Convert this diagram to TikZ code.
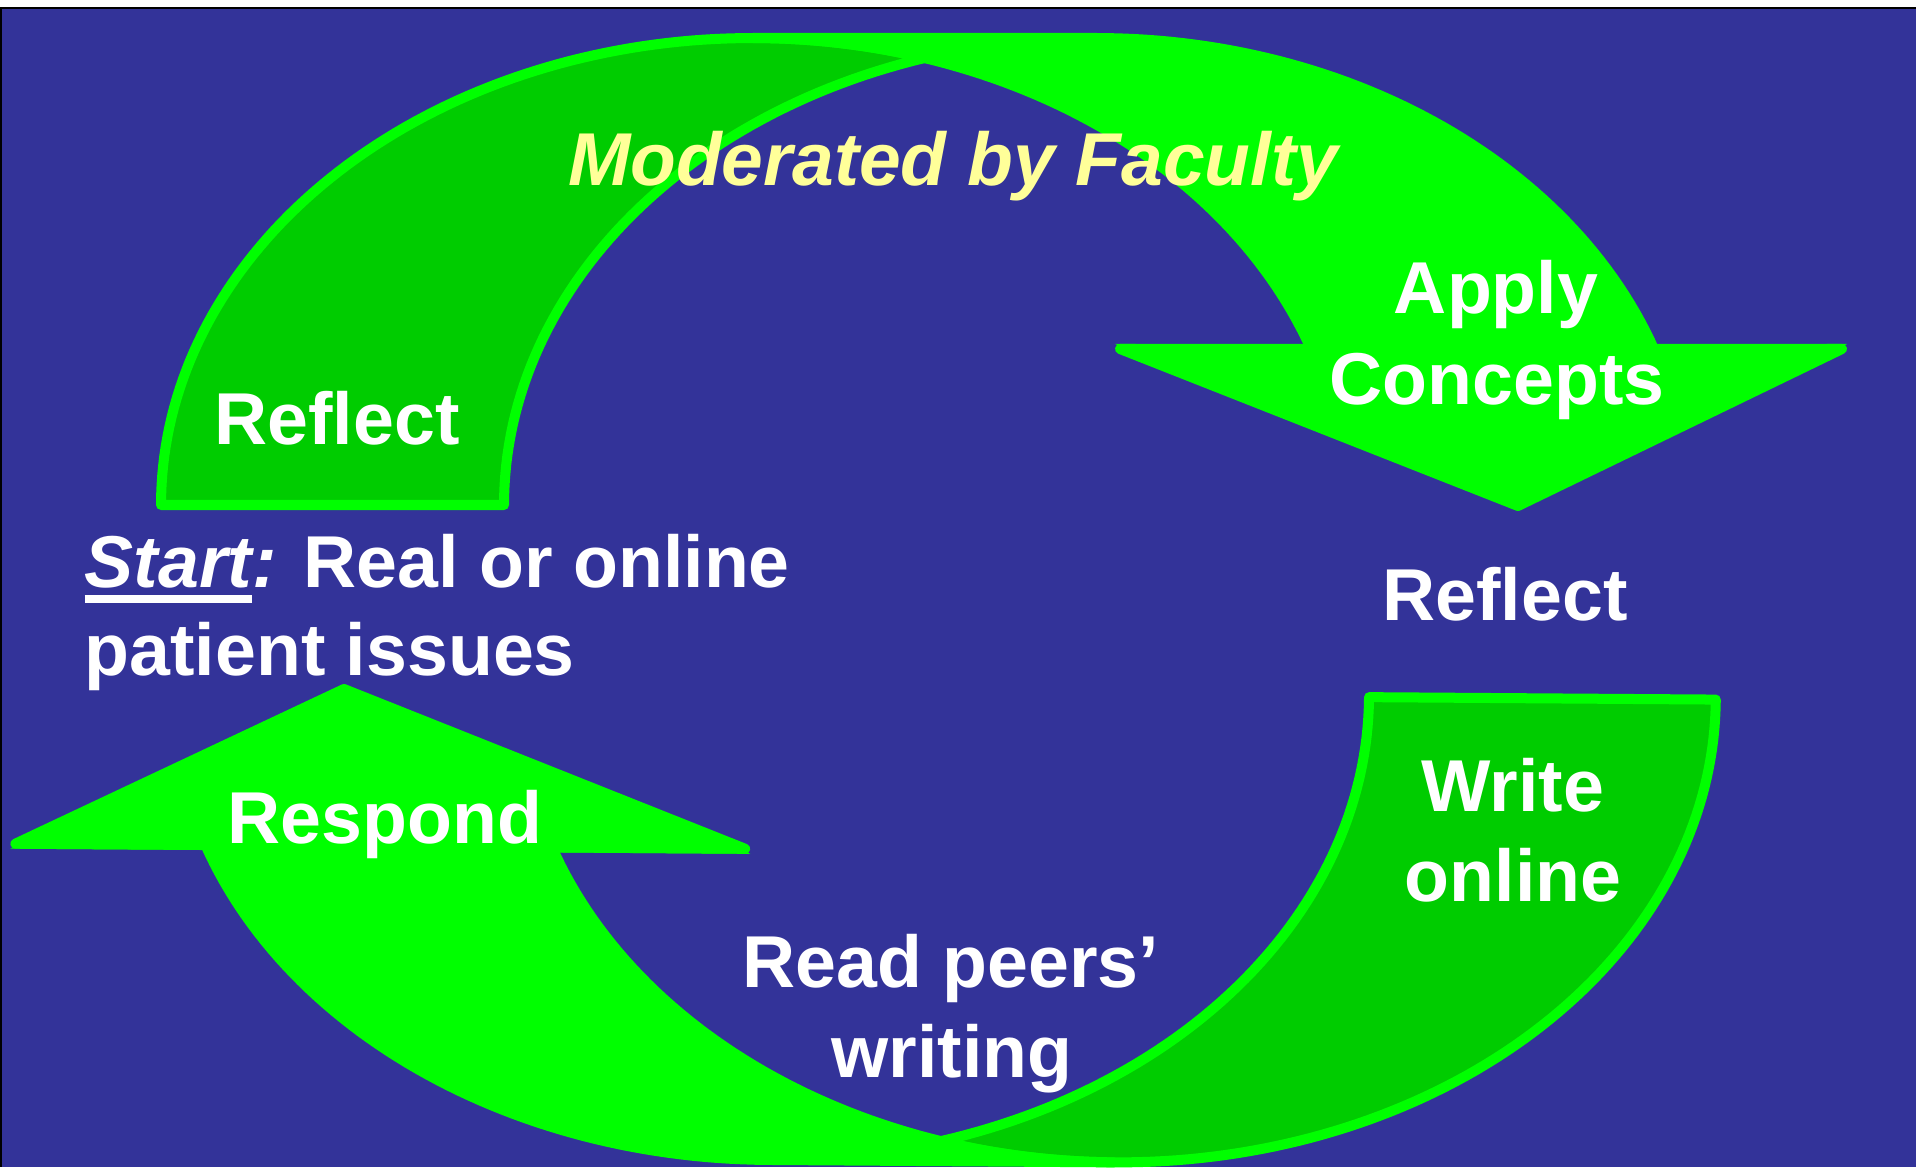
\documentclass[tikz,border=0pt]{standalone}
\usepackage{fontspec}
\setmainfont{Liberation Sans}
\definecolor{slidebg}{HTML}{333399}
\definecolor{brightgreen}{HTML}{00FF00}
\definecolor{shadegreen}{HTML}{00CC00}
\definecolor{paleyellow}{HTML}{FFFF99}

% One curved arrow: shaded back crescent plus bright front band with head.
% Ellipses share radii 592 x 467; left one centred at x=753, right one at x=1096.
\newcommand\cyclearrow{%
  \filldraw[backpart] (161,505)
    -- plot[domain=180:73.16,samples=90,variable=\t] ({753+592*cos(\t)},{505-467*sin(\t)})
    -- plot[domain=106.84:180,samples=60,variable=\t] ({1096+592*cos(\t)},{505-467*sin(\t)})
    -- cycle;
  \filldraw[frontpart] plot[domain=90:19.51,samples=60,variable=\t] ({1096+592*cos(\t)},{505-467*sin(\t)})
    -- (1842,349) -- (1518,506) -- (1120,349)
    -- plot[domain=19.51:90,samples=60,variable=\t] ({753+592*cos(\t)},{505-467*sin(\t)})
    -- cycle;
  % crisp corners of the head
  \fill[brightgreen] (1115,344) -- (1847,344) -- (1518,511) -- cycle;
}

\begin{document}
\begin{tikzpicture}[x=0.01cm,y=-0.01cm,
  frontpart/.style={fill=brightgreen,draw=brightgreen,line width=0.1cm,line join=round},
  backpart/.style={fill=shadegreen,draw=brightgreen,line width=0.1cm,line join=round},
  txt/.style={text=white,font=\fontsize{20.9pt}{25pt}\selectfont\bfseries,inner sep=0pt},
  modtxt/.style={text=paleyellow,font=\fontsize{21.3pt}{25pt}\selectfont\bfseries\itshape,inner sep=0pt},
  ]
\useasboundingbox (0,0) rectangle (1916,1167);
\fill[white] (0,0) rectangle (1916,1167);
\fill[slidebg] (0,8) rectangle (1916,1167);
\draw[black,line width=0.02cm] (0,8) -- (1916,8);
\draw[black,line width=0.015cm] (0.75,8) -- (0.75,1167);

% upper arrow (ends pointing down at the right)
\cyclearrow

% lower arrow: the same shape turned half round
\begin{scope}[shift={(344,684)},rotate=179.6,xscale=1.011,shift={(-1518,-511)}]
  \cyclearrow
\end{scope}

% labels
\node[modtxt,anchor=base] (moderated) at (953,186) {Moderated by Faculty};
\node[txt,anchor=base] (reflectA) at (337,444) {Reflect};
\node[txt,anchor=base] (apply) at (1496,314) {Apply};
\node[txt,anchor=base] (concepts) at (1497,404) {Concepts};
\node[txt,anchor=base] (reflectB) at (1505,620) {Reflect};
\node[txt,anchor=base west] (start) at (84,587)
  {{\itshape\setbox0\hbox{Start}\rlap{\rule[-4.6pt]{\wd0}{2.3pt}}Start:} Real or online};
\node[txt,anchor=base west] (patient) at (84,675) {patient issues};
\node[txt,anchor=base] (respond) at (385,843) {Respond};
\node[txt,anchor=base] (write) at (1513,811) {Write};
\node[txt,anchor=base] (online) at (1513,901) {online};
\node[txt,anchor=base] (readpeers) at (951,987) {Read peers’};
\node[txt,anchor=base] (writing) at (952,1077) {writing};
\end{tikzpicture}
\end{document}
